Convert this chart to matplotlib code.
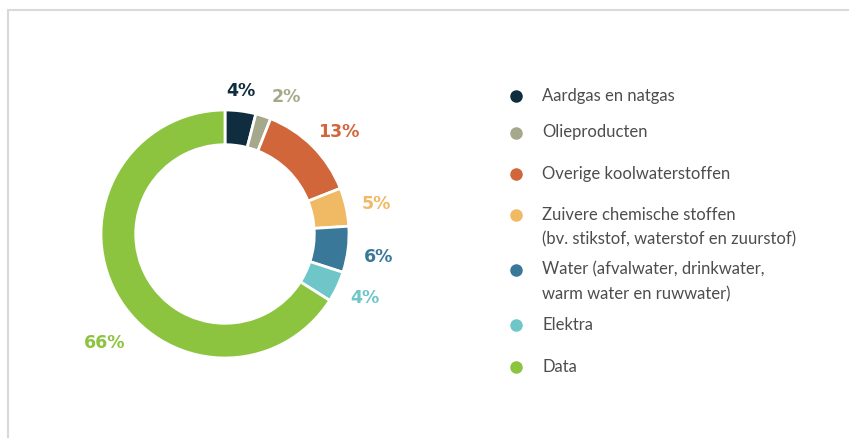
import numpy as np
import matplotlib.pyplot as plt
from matplotlib.lines import Line2D

categories = ["Aardgas en natgas", "Olieproducten", "Overige koolwaterstoffen",
              "Zuivere chemische stoffen\n(bv. stikstof, waterstof en zuurstof)",
              "Water (afvalwater, drinkwater,\nwarm water en ruwwater)",
              "Elektra", "Data"]
shares = [4, 2, 13, 5, 6, 4, 66]
colors = ["#0f2d3f", "#a6a88c", "#d0663a", "#efba63", "#3a7899", "#6fc6c8", "#8cc43f"]

# label placement tweaks (angle shift in degrees, radius)
label_shift = [1, -6, -3, -1.5, -1.5, 0.5, 13.5]
label_rad = [1.16, 1.21, 1.23, 1.24, 1.25, 1.24, 1.31]

W, H = 849, 438
fig = plt.figure(figsize=(W / 100, H / 100), dpi=100)
fig.patch.set_facecolor("white")

# light frame on top and left
fig.add_artist(Line2D([8 / W, 1], [1 - 10 / H, 1 - 10 / H], color="#d9d9d9", lw=1.5))
fig.add_artist(Line2D([8 / W, 8 / W], [0, 1 - 10 / H], color="#d9d9d9", lw=1.5))

# donut: center (225, 234) px, radius 124 px
cx, cy, R = 225, 234, 124
half = R * 1.4
ax = fig.add_axes([(cx - half) / W, (H - cy - half) / H, 2 * half / W, 2 * half / H])
wedges, texts, autotexts = ax.pie(
    shares, colors=colors, startangle=90, counterclock=False,
    autopct=lambda p: f"{p:.0f}%", pctdistance=1.21,
    wedgeprops=dict(width=0.28, edgecolor="white", linewidth=2),
)
for w, t, c, da, r in zip(wedges, autotexts, colors, label_shift, label_rad):
    ang = np.deg2rad((w.theta1 + w.theta2) / 2 + da)
    t.set_position((r * np.cos(ang), r * np.sin(ang)))
    t.set_color(c)
    t.set_fontsize(12.5)
    t.set_fontweight("bold")
    t.set_family("DejaVu Sans")
ax.set_xlim(-1.4, 1.4)
ax.set_ylim(-1.4, 1.4)
ax.set_aspect("equal")
ax.axis("off")

# legend
marker_y = [96, 133, 174, 215, 270, 325, 367]
for name, c, y in zip(categories, colors, marker_y):
    fig.add_artist(Line2D([516 / W], [1 - y / H], marker="o", markersize=8,
                          color=c, linestyle="none"))
    fig.text(542 / W, 1 - (y - 8.5) / H, name, ha="left", va="top",
             fontsize=12, color="#4d4d4d", family="Lato", linespacing=1.65)

fig.savefig("out.png", dpi=100)
